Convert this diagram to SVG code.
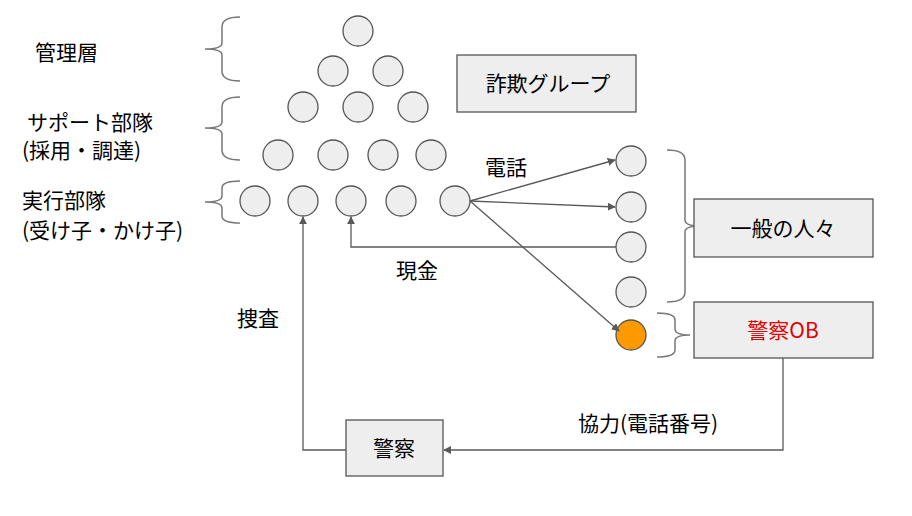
<svg xmlns="http://www.w3.org/2000/svg" width="912" height="516" viewBox="0 0 912 516">
<style>
text{font-family:"Noto Sans CJK JP","Liberation Sans",sans-serif;font-size:21px;fill:#000}
.c{fill:#eeeeee;stroke:#555;stroke-width:1.3}
.o{fill:#ff9900;stroke:#555;stroke-width:1.3}
.b{fill:#eeeeee;stroke:#555;stroke-width:1.3}
.br{fill:none;stroke:#777;stroke-width:1.5}
.ln{fill:none;stroke:#595959;stroke-width:1.3}
</style>
<defs><marker id="a" viewBox="0 0 10 10" refX="9" refY="5" markerWidth="8" markerHeight="8" orient="auto" markerUnits="userSpaceOnUse"><path d="M0,0L10,5L0,10z" fill="#595959"/></marker></defs>
<rect width="912" height="516" fill="#fff"/>
<g id="circles">
<circle class="c" cx="358" cy="31" r="15"/>
<circle class="c" cx="333" cy="71" r="15"/><circle class="c" cx="388" cy="71" r="15"/>
<circle class="c" cx="303" cy="107" r="15"/><circle class="c" cx="358" cy="107" r="15"/><circle class="c" cx="413" cy="107" r="15"/>
<circle class="c" cx="278" cy="155" r="15"/><circle class="c" cx="333" cy="155" r="15"/><circle class="c" cx="383" cy="155" r="15"/><circle class="c" cx="431" cy="155" r="15"/>
<circle class="c" cx="255" cy="201" r="15"/><circle class="c" cx="303" cy="201" r="15"/><circle class="c" cx="351" cy="201" r="15"/><circle class="c" cx="401" cy="201" r="15"/><circle class="c" cx="455" cy="201" r="15"/>
<circle class="c" cx="631" cy="161" r="15"/><circle class="c" cx="631" cy="207" r="15"/><circle class="c" cx="631" cy="247" r="15"/><circle class="c" cx="631" cy="292" r="15"/>
<circle class="o" cx="631" cy="335" r="15"/>
</g>
<g id="braces">
<path class="br" d="M240,17 Q222,17 222,27 V43 Q222,49 205,49 Q222,49 222,55 V71 Q222,81 240,81"/>
<path class="br" d="M240,97 Q222,97 222,107 V122 Q222,128 205,128 Q222,128 222,134 V150 Q222,160 240,160"/>
<path class="br" d="M240,181 Q222,181 222,188 V196 Q222,202 205,202 Q222,202 222,208 V216 Q222,223 240,223"/>
<path class="br" d="M667,150 Q685,150 685,160 V220 Q685,226 700,226 Q685,226 685,232 V292 Q685,302 667,302"/>
<path class="br" d="M657,313 Q675,313 675,320 V329 Q675,335 690,335 Q675,335 675,341 V350 Q675,357 657,357"/>
</g>
<g id="labels">
<text x="35" y="60">管理層</text>
<text x="27" y="130">サポート部隊</text>
<text x="22" y="158">(採用・調達)</text>
<text x="22" y="208">実行部隊</text>
<text x="22" y="238">(受け子・かけ子)</text>
<text x="485" y="175">電話</text>
<text x="396" y="278">現金</text>
<text x="237" y="326">捜査</text>
<text x="578" y="431">協力(電話番号)</text>
</g>
<g id="group"><rect class="b" x="457" y="55" width="179" height="57"/><text x="548" y="91" text-anchor="middle">詐欺グループ</text></g>
<g id="people"><rect class="b" x="694" y="199" width="179" height="58"/><text x="783" y="236" text-anchor="middle">一般の人々</text></g>
<g id="policeob"><rect class="b" x="694" y="302" width="179" height="56"/><text x="783" y="338" text-anchor="middle" style="fill:#e00000">警察OB</text></g>
<g id="police"><rect class="b" x="346" y="420" width="97" height="56"/><text x="394" y="456" text-anchor="middle">警察</text></g>
<g id="connectors">
<line class="ln" x1="470" y1="201" x2="615" y2="160" marker-end="url(#a)"/>
<line class="ln" x1="470" y1="201" x2="615" y2="207" marker-end="url(#a)"/>
<line class="ln" x1="470" y1="201" x2="619" y2="331" marker-end="url(#a)"/>
<polyline class="ln" points="616,247 351,247 351,217" marker-end="url(#a)"/>
<polyline class="ln" points="783,358 783,450 444,450" marker-end="url(#a)"/>
<polyline class="ln" points="346,450 303,450 303,217" marker-end="url(#a)"/>
</g>
</svg>
